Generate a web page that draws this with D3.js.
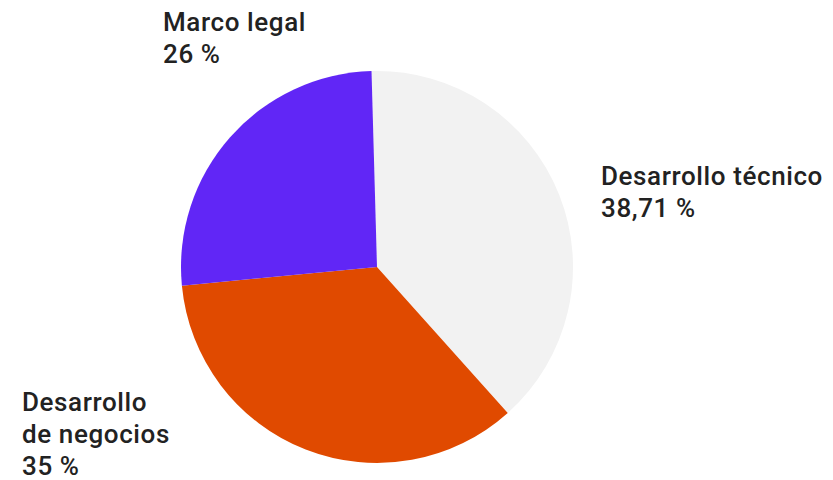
<!DOCTYPE html>
<html>
<head>
<meta charset="utf-8">
<script src="https://cdn.jsdelivr.net/npm/d3@7"></script>
<style>
    body { margin: 0; background: #fff; }
    text { font-family: Roboto, "Noto Sans", sans-serif; font-weight: 500; fill: #222; }
</style>
</head>
<body>
<div id="chart"></div>
<script>
// slice data, clockwise from the top
const categories = ["Desarrollo técnico", "Desarrollo de negocios", "Marco legal"]
const values = [38.71, 35, 26]
const valueLabels = ["38,71 %", "35 %", "26 %"]
const colors = ["#f2f2f2", "#e04a00", "#6126f6"]

// label lines per slice (category may break over two lines)
const labelLines = [
    ["Desarrollo técnico"],
    ["Desarrollo", "de negocios"],
    ["Marco legal"]
]
const labelPos = [[601, 185], [22, 411], [163, 31]]

const width = 833
const height = 480
const cx = 377
const cy = 267
const radius = 196

const svg = d3.select('#chart')
    .append('svg')
    .attr('width', width)
    .attr('height', height)

const pie = d3.pie()
    .sort(null)
    .value(d => d)
    .startAngle(-0.028)
    .endAngle(2 * Math.PI - 0.028)

const arc = d3.arc()
    .innerRadius(0)
    .outerRadius(radius)

const g = svg.append('g')
    .attr('transform', `translate(${cx}, ${cy})`)

g.selectAll('path')
    .data(pie(values))
    .join('path')
    .attr('d', arc)
    .attr('fill', (d, i) => colors[i])

// labels
const lineH = 32
categories.forEach((c, i) => {
    const t = svg.append('text')
        .attr('x', labelPos[i][0])
        .attr('y', labelPos[i][1])
        .style('font-size', '26px')
        .style('letter-spacing', '0.6px')
    const lines = labelLines[i].concat([valueLabels[i]])
    lines.forEach((l, j) => {
        t.append('tspan')
            .attr('x', labelPos[i][0])
            .attr('dy', j == 0 ? 0 : lineH)
            .text(l)
    })
})
</script>
</body>
</html>
